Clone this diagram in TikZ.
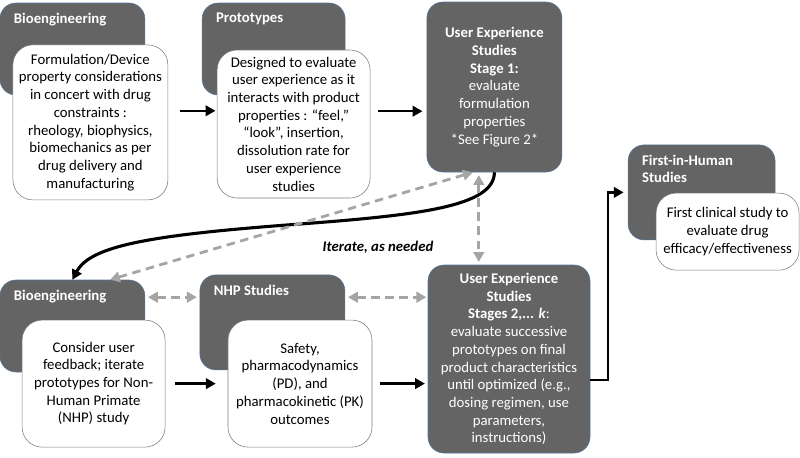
\documentclass[tikz,border=0pt]{standalone}
\usepackage{fontspec}
\setmainfont{Carlito}
\usetikzlibrary{arrows.meta}
\definecolor{darkfill}{RGB}{100,100,100}
\definecolor{darkedge}{RGB}{85,118,158}
\definecolor{whiteedge}{RGB}{125,125,125}
\definecolor{dashgray}{RGB}{165,165,165}
\newcommand{\boxfont}{\fontsize{10.5}{12.6}\selectfont}

\begin{document}
\begin{tikzpicture}[
        >={Triangle[length=7pt,width=7.5pt]},
        bxdark/.style={fill=darkfill,draw=darkedge,thin,rounded corners=0.4cm,inner sep=0pt,
          text=white,align=center,font=\boxfont},
        bxwhite/.style={fill=white,draw=whiteedge,thin,rounded corners=0.5cm,inner sep=0pt,
          align=center,font=\boxfont},
        hd/.style={label={[anchor=north west,inner sep=0pt,xshift=0.35cm,yshift=-0.25cm,
          text=white,align=left,font=\bfseries\boxfont]north west:#1}},
        arr/.style={->,line width=1.6pt},
        dasharr/.style={<->,line width=2pt,draw=dashgray,dash pattern=on 6pt off 4pt}
      ]

      \useasboundingbox (0,0) rectangle (20,-11.425);

      % top row
      \node[bxdark,hd=Bioengineering,minimum width=3.625cm,minimum height=2.3cm] (bio1) at (1.81,-1.225) {};
      \node[bxwhite,minimum width=3.875cm,minimum height=3.875cm] (bio1w) at (2.26,-3.06)
        {Formulation/Device\\property considerations\\in concert with drug\\constraints :\\rheology, biophysics,\\biomechanics as per\\drug delivery and\\manufacturing};
      \node[bxdark,hd=Prototypes,minimum width=3.575cm,minimum height=2.3cm] (proto) at (6.84,-1.225) {};
      \node[bxwhite,minimum width=3.825cm,minimum height=3.7cm] (protow) at (7.34,-3.1)
        {Designed to evaluate\\user experience as it\\interacts with product\\properties : “feel,”\\“look”, insertion,\\dissolution rate for\\user experience\\studies};
      \node[bxdark,minimum width=3.375cm,minimum height=4.25cm] (ues1) at (12.36,-2.175)
        {\textbf{User Experience}\\\textbf{Studies}\\\textbf{Stage 1:}\\evaluate\\formulation\\properties\\*See Figure 2*};

      % first in human
      \node[bxdark,hd={First-in-Human\\Studies},minimum width=3.675cm,minimum height=2.375cm] (fih) at (17.54,-4.81) {};
      \node[bxwhite,minimum width=3.575cm,minimum height=1.925cm] (fihw) at (18.19,-5.79)
        {First clinical study to\\evaluate drug\\efficacy/effectiveness};

      % bottom row
      \node[bxdark,hd=Bioengineering,minimum width=3.625cm,minimum height=2.3cm] (bio2) at (1.81,-8.15) {};
      \node[bxwhite,minimum width=3.575cm,minimum height=3.175cm] (bio2w) at (2.34,-9.59)
        {Consider user\\feedback; iterate\\prototypes for Non-\\Human Primate\\(NHP) study};
      \node[bxdark,hd=NHP Studies,minimum width=3.625cm,minimum height=2.375cm] (nhp) at (6.81,-8.06) {};
      \node[bxwhite,minimum width=3.6cm,minimum height=3.175cm] (nhpw) at (7.5,-9.59)
        {Safety,\\pharmacodynamics\\(PD), and\\pharmacokinetic (PK)\\outcomes};
      \node[bxdark,minimum width=4.05cm,minimum height=4.7cm] (ues2) at (12.725,-8.975)
        {\textbf{User Experience}\\\textbf{Studies}\\\textbf{Stages 2,... \textit{k}}:\\evaluate successive\\prototypes on final\\product characteristics\\until optimized (e.g.,\\dosing regimen, use\\parameters,\\instructions)};

      \node[font=\bfseries\itshape\boxfont] (iter) at (9.45,-6.18) {Iterate, as needed};

      % solid arrows
      \draw[arr,shorten >=1pt] ([xshift=0.3cm,yshift=0.29cm]bio1w.east) -- ([yshift=0.29cm]bio1w.east -| protow.west);
      \draw[arr,shorten >=3pt] ([xshift=0.2cm,yshift=0.32cm]protow.east) -- ([yshift=0.32cm]protow.east -| ues1.west);
      \draw[arr] ([xshift=0.25cm]bio2w.east) -- ([xshift=-0.3cm]nhpw.west);
      \draw[arr,shorten >=2pt] ([xshift=0.2cm]nhpw.east) -- (nhpw.east -| ues2.west);
      \draw[arr,shorten >=3pt] ([yshift=-0.52cm]ues2.east) -- ++(0.45,0) |- (fih.west);
      \draw[->,line width=2.2pt] (ues1.south) .. controls +(0,-0.85) and +(3,0.225) .. (7.5,-5.6)
        .. controls +(-3.75,-0.275) and +(0.45,0.85) .. (bio2.north);

      % dashed arrows
      \draw[dasharr,shorten <=2pt,shorten >=2pt] ([yshift=0.72cm]bio2.east) -- ([yshift=0.72cm]bio2.east -| nhp.west);
      \draw[dasharr,shorten <=2pt,shorten >=1pt] ([yshift=0.72cm]bio2.east -| nhp.east) -- ([yshift=0.72cm]bio2.east -| ues2.west);
      \draw[dasharr,shorten <=2pt,shorten >=2pt] ([xshift=-0.39cm]ues1.south) -- ([xshift=-0.39cm]ues1.south |- ues2.north);
      \draw[dasharr] ([xshift=0.94cm]bio2.north) -- ([xshift=-0.54cm]ues1.south);

    \end{tikzpicture}
\end{document}
